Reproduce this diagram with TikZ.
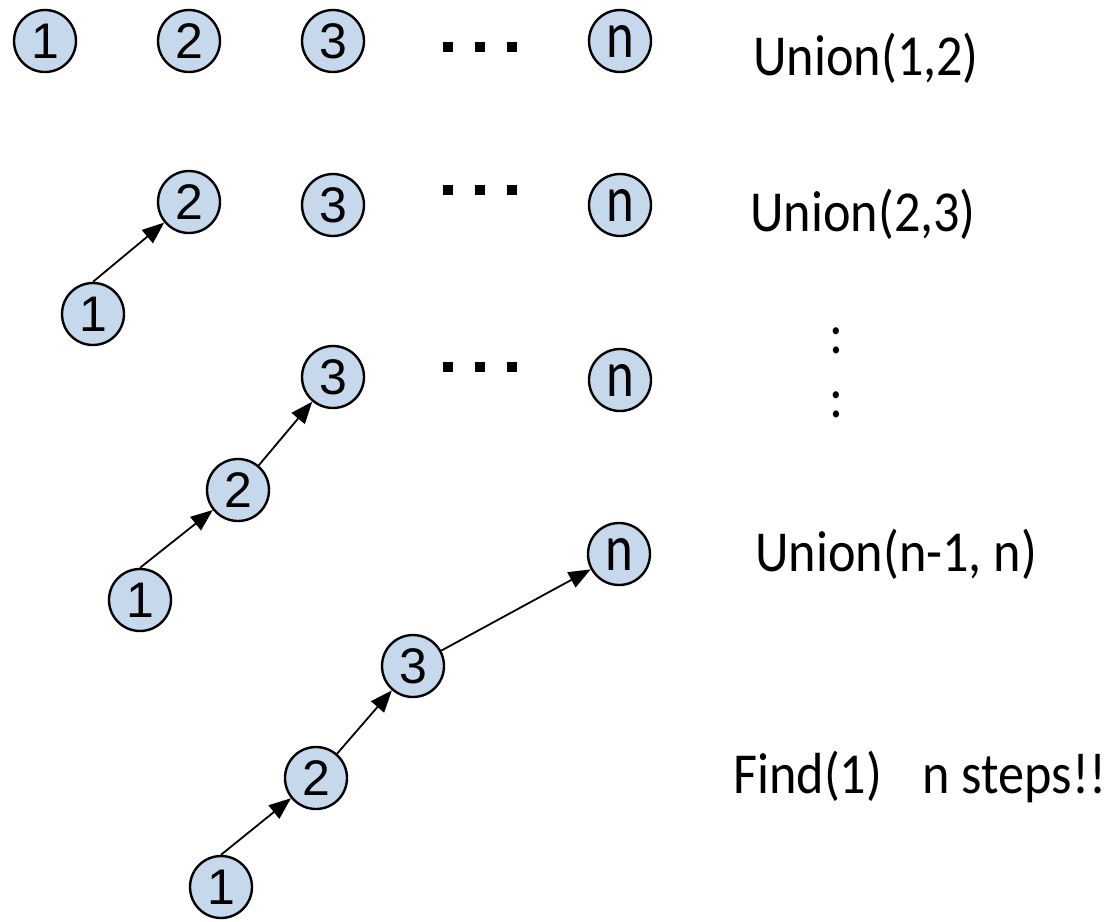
\documentclass[tikz,border=0pt]{standalone}
\usepackage{fontspec}
\usetikzlibrary{arrows.meta}
\newfontfamily\digitfont{Liberation Sans}
\newfontfamily\opfont[FakeStretch=0.9]{Carlito}
\newfontfamily\nfont[FakeStretch=0.8]{Carlito}
\definecolor{nodeblue}{RGB}{198,217,236}
\newcommand{\sqdot}{\rule{5pt}{5pt}}

\begin{document}
\begin{tikzpicture}[x=0.5pt,y=-0.5pt,
  vertex/.style={shape=circle,draw=black,fill=nodeblue,line width=1.2pt,
    minimum size=31pt,inner sep=0pt,font=\digitfont\fontsize{25}{25}\selectfont},
  nvertex/.style={vertex,font=\nfont\fontsize{33}{33}\selectfont},
  optext/.style={anchor=base west,inner sep=0pt,font=\opfont\fontsize{29}{34}\selectfont},
  hdots/.style={inner sep=0pt},
  vdots/.style={inner sep=0pt,font=\opfont\fontsize{29}{34}\selectfont},
  link/.style={-{Triangle[length=11pt,width=8.5pt]},line width=0.9pt}]
\useasboundingbox (0,0) rectangle (1115,922);

% row 1: all apart
\node[vertex] (a1) at (45,41) {1};
\node[vertex] (a2) at (189,41) {2};
\node[vertex] (a3) at (333,41) {3};
\node[hdots] (adots) at (480,47) {\sqdot\hspace{11pt}\sqdot\hspace{11pt}\sqdot};
\node[nvertex] (an) at (620,41) {n};
\node[optext] (aop) at (753,75) {Union(1,2)};

% row 2
\node[vertex] (b1) at (93,314) {1};
\node[vertex] (b2) at (189,202) {2};
\node[vertex] (b3) at (333,205) {3};
\node[hdots] (bdots) at (480,190) {\sqdot\hspace{11pt}\sqdot\hspace{11pt}\sqdot};
\node[nvertex] (bn) at (620,205) {n};
\node[optext] (bop) at (750,231) {Union(2,3)};
\draw[link] (b1.north) -- (b2);

% row 3
\node[vertex] (c1) at (140,600) {1};
\node[vertex] (c2) at (238,490) {2};
\node[vertex] (c3) at (333,377) {3};
\node[hdots] (cdots) at (480,367) {\sqdot\hspace{11pt}\sqdot\hspace{11pt}\sqdot};
\node[nvertex] (cn) at (620,380) {n};
\node[vdots] (colA) at (836,341) {:};
\node[vdots] (colB) at (836,405) {:};
\draw[link] (c1.north) -- (c2);
\draw[link] (c2) -- (c3);

% row 4: the long chain
\node[vertex] (d1) at (221,887) {1};
\node[vertex] (d2) at (316,778) {2};
\node[vertex] (d3) at (413,666) {3};
\node[nvertex] (dn) at (619,554) {n};
\node[optext] (dop) at (755,571) {Union(n-1, n)};
\node[optext] (find) at (733,793) {Find(1)\hspace{0.7em}n steps!!};
\draw[link] (d1.north) -- (d2);
\draw[link] (d2) -- (d3);
\draw[link] (d3) -- (dn);
\end{tikzpicture}
\end{document}
